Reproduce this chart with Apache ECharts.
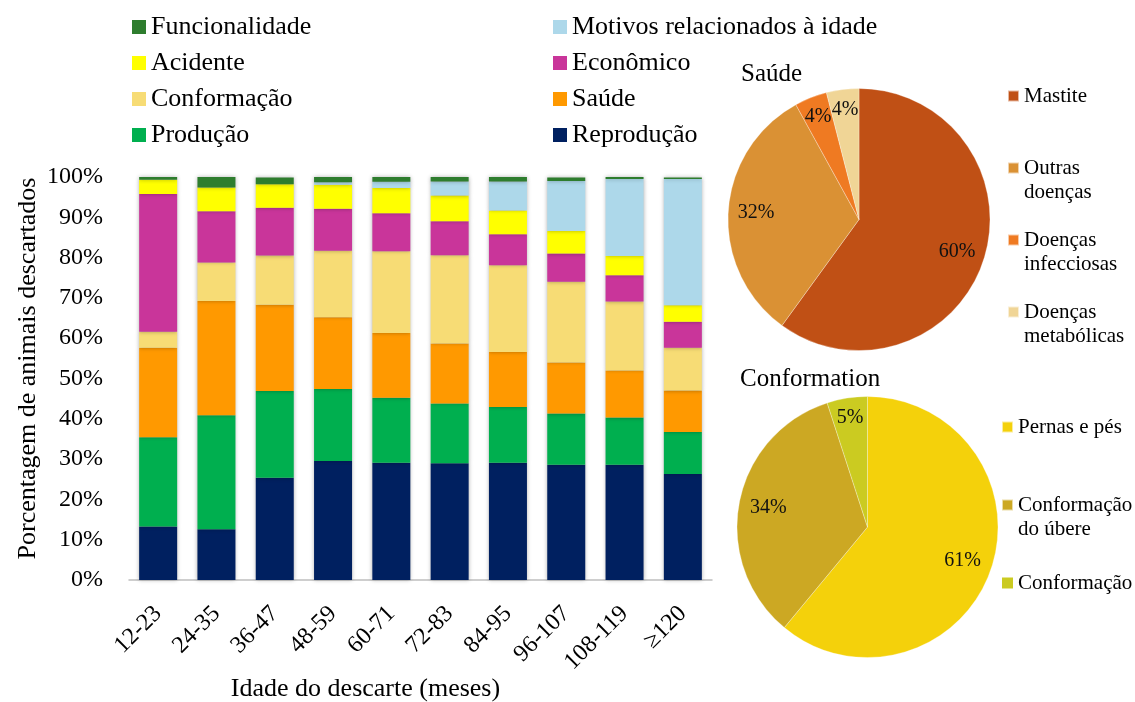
<!DOCTYPE html>
<html><head><meta charset="utf-8">
<script src="https://cdn.jsdelivr.net/npm/echarts@6/dist/echarts.min.js"></script>
<style>html,body{margin:0;padding:0;background:#fff}#c{width:1135px;height:702px}</style>
</head><body><div id="c"></div>
<script>
// ---- Data ----
const categories = ['12-23','24-35','36-47','48-59','60-71','72-83','84-95','96-107','108-119','≥120'];
const seriesNames = ['Reprodução','Produção','Saúde','Conformação','Econômico','Acidente','Motivos relacionados à idade','Funcionalidade'];
const reproducao     = [13.3, 12.6, 25.4, 29.5, 29.1, 29.0, 29.1, 28.6, 28.6, 26.3];
const producao       = [22.1, 28.3, 21.5, 17.9, 16.1, 14.8, 13.8, 12.7, 11.7, 10.4];
const saude          = [22.2, 28.3, 21.4, 17.8, 16.1, 14.9, 13.7, 12.7, 11.7, 10.3];
const conformacao    = [ 4.0,  9.6, 12.2, 16.5, 20.3, 21.9, 21.5, 20.0, 17.1, 10.6];
const economico      = [34.2, 12.7, 11.9, 10.4,  9.4,  8.4,  7.7,  7.0,  6.5,  6.5];
const acidente       = [ 3.5,  5.9,  5.8,  6.0,  6.3,  6.4,  5.9,  5.6,  4.8,  4.1];
const motivos        = [ 0.0,  0.0,  0.0,  0.6,  1.5,  3.5,  7.2, 12.4, 19.1, 31.3];
const funcionalidade = [ 0.7,  2.6,  1.7,  1.3,  1.3,  1.2,  1.1,  0.9,  0.7,  0.4];
const barColors = ['#002060','#00AF4F','#FF9900','#F7DC75','#C9359A','#FFFF00','#ADD8EA','#2E7D2E'];
const legendCol1 = ['Funcionalidade','Acidente','Conformação','Produção'];
const legendCol2 = ['Motivos relacionados à idade','Econômico','Saúde','Reprodução'];

const saudeNames  = ['Mastite','Outras doenças','Doenças infecciosas','Doenças metabólicas'];
const saudeValues = [60, 32, 4, 4];
const saudeLabels = ['Mastite','Outras\ndoenças','Doenças\ninfecciosas','Doenças\nmetabólicas'];
const saudeColors = ['#C05015','#DA9134','#EF7A22','#F0D596'];

const confNames  = ['Pernas e pés','Conformação do úbere','Conformação'];
const confValues = [61, 34, 5];
const confLabels = ['Pernas e pés','Conformação\ndo úbere','Conformação'];
const confColors = ['#F4D10B','#CCA823','#CBCB21'];

// ---- Chart ----
const FONT = 'Liberation Serif';
const barValues = [reproducao, producao, saude, conformacao, economico, acidente, motivos, funcionalidade];
const barSeries = seriesNames.map((n, i) => ({
  type: 'bar', name: n, stack: 'total', data: barValues[i], barWidth: 38,
  itemStyle: { color: barColors[i], shadowBlur: 4, shadowColor: 'rgba(0,0,0,0.3)' }
}));

function pieLegendFormatter(names, labels) {
  return function (n) {
    const l = labels[names.indexOf(n)];
    return '\n' + l + (l.indexOf('\n') < 0 ? '\n' : '');
  };
}
function pieData(names, values, colors) {
  return names.map((n, i) => ({ name: n, value: values[i], itemStyle: { color: colors[i] } }));
}
// transparent copy used only to place the percentage labels further out than the slice middle
function labelData(names, values, small) {
  return names.map((n, i) => ({ name: n, value: values[i], itemStyle: { color: 'rgba(0,0,0,0)' },
    label: { show: small ? values[i] < 10 : values[i] >= 10 } }));
}
const mainLegendBase = { orient: 'vertical', top: 14, padding: 0, itemWidth: 14, itemHeight: 14, itemGap: 10, icon: 'rect',
  textStyle: { fontFamily: FONT, fontSize: 26, lineHeight: 26, color: '#000' } };
const pieLegendText = { fontFamily: FONT, fontSize: 21, lineHeight: 24, color: '#000' };
const pieLabel = { position: 'inside', formatter: '{d}%', fontFamily: FONT, fontSize: 20, color: '#111' };

function labelPie(center, outer, names, values, small) {
  return { type: 'pie', center: center, radius: [0, outer], startAngle: 90, clockwise: true,
    avoidLabelOverlap: false, silent: true, percentPrecision: 0, label: pieLabel, labelLine: { show: false },
    labelLayout: { hideOverlap: false }, z: 5, emphasis: { disabled: true },
    data: labelData(names, values, small) };
}

const option = {
  animation: false,
  backgroundColor: '#fff',
  title: [
    { text: 'Saúde', left: 741, top: 62, padding: 0, textStyle: { fontFamily: FONT, fontSize: 25, fontWeight: 'normal', color: '#000' } },
    { text: 'Conformation', left: 740, top: 367, padding: 0, textStyle: { fontFamily: FONT, fontSize: 25, fontWeight: 'normal', color: '#000' } }
  ],
  legend: [
    Object.assign({}, mainLegendBase, { left: 132, data: legendCol1 }),
    Object.assign({}, mainLegendBase, { left: 553, data: legendCol2 }),
    { orient: 'vertical', left: 1007, top: 60, padding: 0, itemWidth: 11, itemHeight: 11, itemGap: 0, icon: 'rect',
      data: saudeNames.map((n, i) => ({ name: n, itemStyle: { color: saudeColors[i] } })),
      formatter: pieLegendFormatter(saudeNames, saudeLabels), textStyle: pieLegendText },
    { orient: 'vertical', left: 1001, top: 391, padding: 0, itemWidth: 11, itemHeight: 11, itemGap: 6, icon: 'rect',
      data: confNames.map((n, i) => ({ name: n, itemStyle: { color: confColors[i] } })),
      formatter: pieLegendFormatter(confNames, confLabels), textStyle: pieLegendText }
  ],
  grid: { left: 129, right: 423, top: 177, bottom: 122, outerBoundsMode: 'none', containLabel: false },
  xAxis: {
    type: 'category', data: categories,
    axisLine: { lineStyle: { color: '#BFBFBF', width: 1.5 } },
    axisTick: { show: false },
    axisLabel: { rotate: 45, interval: 0, fontFamily: FONT, fontSize: 24, color: '#000', margin: 30 },
    name: 'Idade do descarte (meses)', nameLocation: 'middle', nameGap: 96, nameMoveOverlap: false,
    nameTextStyle: { fontFamily: FONT, fontSize: 26, color: '#000', padding: [0, 110, 0, 0] }
  },
  yAxis: {
    type: 'value', min: 0, max: 100, interval: 10,
    axisLine: { show: false }, axisTick: { show: false }, splitLine: { show: false },
    axisLabel: { formatter: '{value}%', fontFamily: FONT, fontSize: 24, color: '#000', margin: 26 },
    name: 'Porcentagem de animais descartados', nameLocation: 'middle', nameRotate: 90, nameGap: 88, nameMoveOverlap: false,
    nameTextStyle: { fontFamily: FONT, fontSize: 26, color: '#000', padding: [0, 0, 0, 20] }
  },
  series: barSeries.concat([
    { type: 'pie', name: 'Saúde', center: [859, 219.5], radius: [0, 131], startAngle: 90, clockwise: true,
      avoidLabelOverlap: false, silent: true, label: { show: false }, labelLine: { show: false },
      itemStyle: { borderColor: 'rgba(255,255,255,0.6)', borderWidth: 0.5 },
      data: pieData(saudeNames, saudeValues, saudeColors) },
    { type: 'pie', name: 'Conformation', center: [867.5, 527], radius: [0, 130.5], startAngle: 90, clockwise: true,
      avoidLabelOverlap: false, silent: true, label: { show: false }, labelLine: { show: false },
      itemStyle: { borderColor: 'rgba(255,255,255,0.6)', borderWidth: 0.5 },
      data: pieData(confNames, confValues, confColors) },
    labelPie([859, 219.5], 200, saudeNames, saudeValues, false),
    labelPie([859, 219.5], 216, saudeNames, saudeValues, true),
    labelPie([867.5, 527], 196, confNames, confValues, false),
    labelPie([867.5, 527], 216, confNames, confValues, true)
  ])
};
const chart = echarts.init(document.getElementById('c'), null, { renderer: 'canvas' });
chart.setOption(option);
</script>
</body></html>
